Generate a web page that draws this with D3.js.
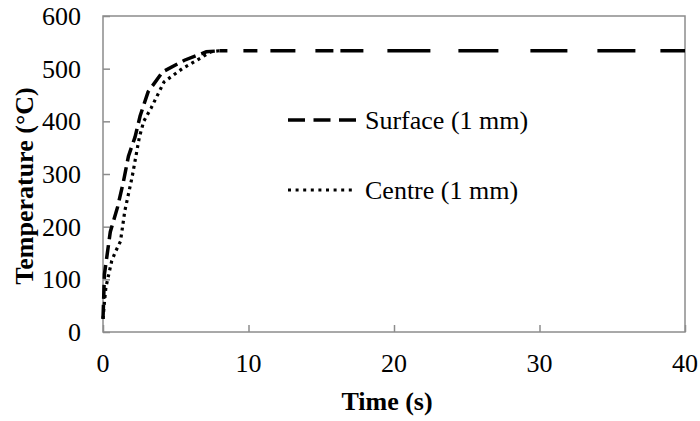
<!DOCTYPE html>
<html>
<head>
<meta charset="utf-8">
<script src="https://cdn.jsdelivr.net/npm/d3@7"></script>
<style>
  html, body { margin: 0; padding: 0; background: #fff; }
  svg { display: block; }
  text { fill: #000; }
</style>
</head>
<body>
<svg id="chart" width="700" height="421"></svg>
<script>
// Heating curves: temperature vs time for a 1 mm section
const surfaceTime = [0, 0.1, 0.3, 0.5, 1.0, 1.4, 1.75, 2.2, 2.55, 3.1, 4.1, 5.6, 7.1, 8, 40];
const surfaceTemp = [25, 110, 150, 190, 237, 285, 334, 370, 410, 456, 494, 516, 532, 534, 534];

const centreTime = [0, 0.1, 0.2, 0.4, 0.6, 0.85, 1.2, 1.5, 2.0, 2.5, 2.8, 3.3, 4.2, 5.5, 6.7, 7.4, 8];
const centreTemp = [25, 57, 85, 110, 135, 152, 172, 230, 294, 370, 400, 425, 475, 501, 520, 532, 534];

const xTicks = [0, 10, 20, 30, 40];
const yTicks = [0, 100, 200, 300, 400, 500, 600];
const seriesNames = ["Surface (1 mm)", "Centre (1 mm)"];

const serif = "'Liberation Serif', 'Times New Roman', Times, serif";

const svg = d3.select("#chart");
const plot = { left: 103, right: 685, top: 16, bottom: 332 };

const x = d3.scaleLinear().domain([0, 40]).range([plot.left, plot.right]);
const y = d3.scaleLinear().domain([0, 600]).range([plot.bottom, plot.top]);

const axisColor = "#8c8c8c";

// Frame
svg.append("rect")
  .attr("x", plot.left).attr("y", plot.top)
  .attr("width", plot.right - plot.left).attr("height", plot.bottom - plot.top)
  .attr("fill", "none").attr("stroke", axisColor).attr("stroke-width", 1.5);

// Y axis: ticks point inward
const yAxis = d3.axisRight(y).tickValues(yTicks).tickSize(7).tickFormat("");
const gy = svg.append("g").attr("transform", `translate(${plot.left},0)`).call(yAxis);
gy.select(".domain").remove();
gy.selectAll(".tick line").attr("stroke", axisColor).attr("stroke-width", 1.5);

svg.append("g").selectAll("text").data(yTicks).join("text")
  .attr("x", 81).attr("y", d => y(d))
  .attr("dy", "0.34em")
  .attr("text-anchor", "end")
  .style("font-family", serif)
  .style("font-size", "26px")
  .text(d => d);

// X axis: ticks point up into the plot
const xAxis = d3.axisTop(x).tickValues(xTicks).tickSize(7).tickFormat("");
const gx = svg.append("g").attr("transform", `translate(0,${plot.bottom})`).call(xAxis);
gx.select(".domain").remove();
gx.selectAll(".tick line").attr("stroke", axisColor).attr("stroke-width", 1.5);

svg.append("g").selectAll("text").data(xTicks).join("text")
  .attr("x", d => x(d)).attr("y", 372)
  .attr("text-anchor", "middle")
  .style("font-family", serif)
  .style("font-size", "26px")
  .text(d => d);

// Axis titles
svg.append("text")
  .attr("x", 387).attr("y", 410)
  .attr("text-anchor", "middle")
  .style("font-family", serif)
  .style("font-size", "26px").style("font-weight", "bold")
  .text("Time (s)");

svg.append("text")
  .attr("transform", "translate(33,186) rotate(-90)")
  .attr("text-anchor", "middle")
  .style("font-family", serif)
  .style("font-size", "26px").style("font-weight", "bold")
  .text("Temperature (\u00B0C)");

// Series
const line = d3.line().x(d => x(d[0])).y(d => y(d[1]));
const surface = surfaceTime.map((t, i) => [t, surfaceTemp[i]]);
const centre = centreTime.map((t, i) => [t, centreTemp[i]]);

const riseEnd = surfaceTime.indexOf(8);
const surfaceRise = surface.slice(0, riseEnd + 1);
const surfacePlateau = surface.slice(riseEnd);

svg.append("path")
  .attr("d", line(centre))
  .attr("fill", "none").attr("stroke", "#000")
  .attr("stroke-width", 3.2)
  .attr("stroke-dasharray", "3,4");

svg.append("path")
  .attr("d", line(surfaceRise))
  .attr("fill", "none").attr("stroke", "#000")
  .attr("stroke-width", 3.5)
  .attr("stroke-dasharray", "14,6");

svg.append("path")
  .attr("d", line(surfacePlateau))
  .attr("fill", "none").attr("stroke", "#000")
  .attr("stroke-width", 3.5)
  .attr("stroke-dasharray", "8,16,14,13,25,20,18,7,23,24,43,28,40,32,37,30,38,25,40");

// Legend
const legend = svg.append("g");
const legendRows = [
  { name: seriesNames[0], y: 120, dash: "17,8.5", width: 3.5 },
  { name: seriesNames[1], y: 190, dash: "3,4.6", width: 3.2 }
];
legendRows.forEach(r => {
  legend.append("line")
    .attr("x1", 288).attr("x2", 356)
    .attr("y1", r.y).attr("y2", r.y)
    .attr("stroke", "#000").attr("stroke-width", r.width)
    .attr("stroke-dasharray", r.dash);
  legend.append("text")
    .attr("x", 365).attr("y", r.y)
    .attr("dy", "0.34em")
    .style("font-family", serif)
    .style("font-size", "26px")
    .text(r.name);
});
</script>
</body>
</html>
